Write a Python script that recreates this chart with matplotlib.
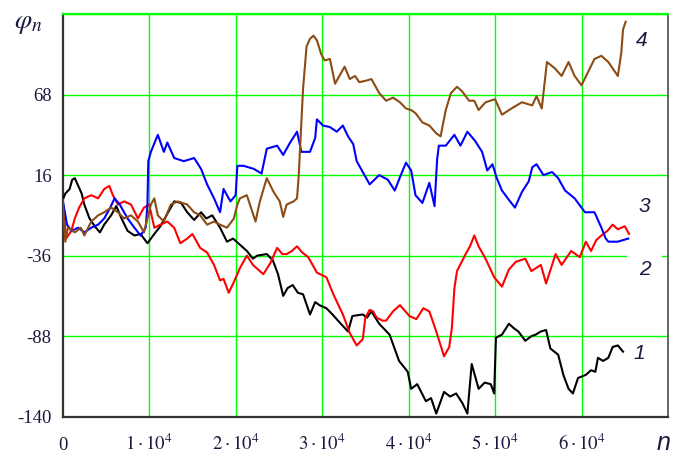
import numpy as np
import matplotlib
matplotlib.use("Agg")
import matplotlib.pyplot as plt

plt.rcParams['font.family'] = ['Liberation Serif', 'DejaVu Serif']
plt.rcParams['mathtext.fontset'] = 'stix'

# --- данные: номер шага n (в тысячах) и значение фазы φ_n для четырёх реализаций ---
n_black = [0, 0.3, 0.8, 1.1, 1.4, 1.8, 2.2, 2.5, 3.1, 3.7, 4.3, 4.8, 5.6, 6.2, 6.8, 7.5,
           8.3, 9.0, 9.8, 10.6, 11.3, 12.0, 12.9, 13.7, 14.4, 15.2, 16.0, 16.6, 17.3,
           18.2, 19.0, 19.7, 20.5, 21.3, 22.0, 22.5, 23.6, 24.3, 24.9, 25.5, 26.0, 26.6,
           27.2, 27.8, 28.6, 29.2, 29.7, 30.5, 31.2, 32.0, 33.0, 33.5, 34.7, 35.2, 35.7,
           36.6, 37.8, 38.9, 39.9, 40.3, 41.0, 42.0, 42.6, 43.2, 44.1, 44.8, 45.5, 46.2,
           46.8, 47.3, 48.1, 48.8, 49.5, 49.9, 50.1, 50.8, 51.6, 52.2, 52.7, 53.5, 54.2,
           54.7, 55.3, 55.9, 56.4, 57.3, 57.9, 58.5, 59.0, 59.6, 60.5, 61.1, 61.6, 61.9,
           62.5, 63.1, 63.6, 64.2, 64.8]
phi_black = [0, 4, 7, 13, 14, 9, 4, -3, -12, -17, -21, -16, -10, -4, -12, -20,
             -23, -22, -28, -22, -17, -10, -1, -2, -8, -13, -8, -12, -10,
             -18, -27, -25, -29, -33, -38, -36, -35, -39, -48, -62, -57, -55,
             -60, -61, -74, -66, -68, -70, -74, -79, -85, -75, -74, -76, -72,
             -80, -87, -104, -111, -122, -119, -130, -128, -138, -124, -127, -125, -131,
             -138, -106, -122, -118, -119, -125, -89, -87, -80, -83, -85, -91, -88,
             -87, -85, -84, -96, -100, -113, -122, -125, -115, -113, -110, -111, -102,
             -104, -102, -95, -94, -98]

n_red = [0, 0.4, 1.0, 1.4, 1.9, 2.5, 3.3, 4.1, 4.8, 5.4, 5.8, 6.4, 7.1, 7.9, 8.7, 9.4,
         10.0, 10.6, 11.3, 12.1, 12.9, 13.6, 14.4, 15.0, 15.9, 16.7, 17.5, 18.2, 18.6,
         19.2, 19.8, 20.5, 21.3, 22.0, 22.6, 23.2, 24.0, 24.8, 25.4, 25.9, 26.5, 27.1,
         27.7, 28.4, 29.4, 30.5, 31.3, 32.4, 33.2, 34.0, 34.7, 35.0, 35.5, 35.9, 36.3,
         37.0, 37.4, 38.2, 39.0, 40.1, 40.9, 41.7, 42.4, 43.2, 44.1, 44.7, 45.0, 45.3,
         45.6, 46.6, 47.1, 47.6, 48.1, 48.9, 49.9, 50.8, 51.6, 52.4, 53.5, 54.2, 55.3,
         55.9, 57.0, 57.7, 58.8, 59.8, 60.5, 61.1, 61.7, 62.3, 63.0, 63.6, 64.2, 65.0, 65.5]
phi_red = [0, -25, -20, -12, -5, 1, 3, 1, 7, 9, 3, -3, -1, -3, -12, -5,
           -3, -18, -16, -14, -18, -28, -25, -22, -31, -34, -42, -52, -51,
           -60, -53, -44, -36, -42, -45, -48, -41, -31, -35, -35, -33, -30,
           -34, -37, -47, -50, -61, -74, -86, -94, -90, -76, -71, -72, -76,
           -78, -78, -72, -68, -75, -77, -70, -72, -85, -101, -95, -83, -57,
           -46, -35, -30, -23, -30, -38, -50, -56, -45, -40, -38, -46, -42,
           -54, -35, -42, -33, -37, -27, -33, -26, -23, -20, -16, -19, -17, -22]

n_blue = [0, 0.5, 1.0, 1.8, 2.5, 3.3, 4.1, 4.8, 5.5, 6.0, 6.6, 7.5, 8.3, 9.0, 9.6, 9.8,
          9.9, 10.2, 11.0, 11.7, 12.1, 12.9, 14.0, 15.2, 16.0, 16.7, 17.5, 18.2, 18.6,
          19.4, 20.0, 20.2, 20.9, 22.1, 23.0, 23.6, 24.8, 25.5, 26.3, 27.1, 27.6, 28.6,
          29.2, 29.4, 30.1, 30.9, 31.7, 32.4, 33.0, 33.6, 34.0, 34.7, 35.5, 36.6, 37.6,
          38.4, 39.1, 39.7, 40.3, 40.8, 41.6, 42.4, 43.0, 43.3, 43.5, 44.3, 45.3, 46.0,
          46.8, 47.7, 48.5, 49.1, 49.7, 50.2, 50.8, 51.6, 52.3, 53.1, 53.9, 54.3, 54.8,
          55.6, 56.6, 57.3, 58.1, 59.2, 60.4, 61.5, 62.3, 62.8, 63.1, 64.2, 65.4]
phi_blue = [0, -16, -20, -18, -21, -18, -16, -12, -5, 1, -3, -12, -18, -23, -18, -3,
            25, 31, 42, 31, 37, 27, 25, 27, 20, 10, 1, -8, 7,
            -1, 3, 22, 22, 20, 17, 33, 35, 29, 37, 44, 31, 31,
            40, 52, 48, 47, 44, 48, 41, 36, 25, 18, 10, 16, 13,
            6, 16, 24, 19, 3, -2, 11, -4, 26, 35, 35, 42, 35,
            44, 38, 31, 19, 23, 14, 6, 0, -5, 5, 12, 21, 23,
            16, 18, 14, 6, 1, -8, -8, -18, -25, -27, -27, -25]

n_brown = [0, 0.3, 0.6, 1.4, 2.1, 2.5, 3.3, 4.1, 4.8, 5.6, 6.4, 7.1, 7.9, 8.7, 9.4, 10.2,
           10.6, 11.0, 11.7, 12.5, 13.3, 14.4, 15.2, 15.9, 16.7, 17.5, 18.2, 19.0, 19.8,
           20.2, 20.5, 21.3, 22.3, 22.8, 23.6, 24.4, 25.1, 25.5, 25.9, 26.7, 27.1, 27.3,
           27.6, 27.8, 28.2, 28.6, 29.0, 29.4, 29.9, 30.3, 30.9, 31.5, 32.0, 32.6, 33.2,
           33.8, 34.3, 35.1, 35.7, 36.6, 37.4, 38.2, 39.0, 39.7, 40.3, 40.8, 41.6, 42.4,
           43.2, 43.7, 44.3, 44.9, 45.6, 46.2, 47.0, 47.6, 48.1, 48.9, 50.0, 50.8, 51.9,
           53.1, 54.3, 54.8, 55.4, 56.0, 56.9, 57.7, 58.5, 59.2, 60.0, 60.8, 61.5, 62.3,
           63.1, 64.2, 64.6, 64.8, 65.1]
phi_brown = [0, -27, -18, -21, -18, -23, -14, -10, -8, -5, -8, -12, -10, -14, -21, -3,
             1, -10, -14, -3, -1, -3, -8, -10, -16, -14, -16, -18, -12,
             -3, 1, 3, -14, -1, 14, 5, -1, -11, -3, -1, 1, 16,
             50, 72, 99, 104, 106, 103, 94, 90, 91, 75, 80, 86, 78,
             80, 76, 77, 78, 69, 64, 66, 63, 59, 58, 56, 50, 48,
             43, 41, 58, 69, 73, 70, 64, 64, 58, 63, 65, 55, 59,
             63, 61, 67, 59, 89, 85, 80, 89, 80, 74, 83, 91, 93,
             89, 80, 95, 110, 115]

series = [(n_black, phi_black, '#000000'),
          (n_red, phi_red, '#ff0000'),
          (n_blue, phi_blue, '#0000ff'),
          (n_brown, phi_brown, '#8c4c14')]

y_ticks = [-140, -88, -36, 16, 68]
x_ticks = [0, 1e4, 2e4, 3e4, 4e4, 5e4, 6e4]
x_tick_labels = ['0'] + [r'$%d\cdot10^{4}$' % k for k in range(1, 7)]

curve_labels = ['1', '2', '3', '4']
label_pos = [(66.7e3, -99), (67.3e3, -45), (67.3e3, -4), (66.9e3, 103)]

text_color = '#1a1a40'
grid_green = '#00ff00'

fig = plt.figure(figsize=(6.77, 4.58), dpi=100)
ax = fig.add_axes([0.0926, 0.0902, 0.8941, 0.8792])
ax.set_xlim(0, 7e4)
ax.set_ylim(-140, 120)

# сетка
for xv in x_ticks[1:]:
    ax.axvline(xv, color=grid_green, lw=1.0, zorder=1)
for yv in y_ticks[1:] + [120]:
    ax.axhline(yv, color=grid_green, lw=1.0, zorder=1)

for n_k, phi, col in series:
    ax.plot(np.array(n_k) * 1e3, phi, color=col, lw=1.5, zorder=3)

for lab, (xp, yp) in zip(curve_labels, label_pos):
    kw = {}
    if lab == '2':
        kw['bbox'] = dict(facecolor='white', edgecolor='none', boxstyle='square,pad=0.55')
    ax.text(xp, yp, lab, fontsize=15, style='italic', family='Liberation Sans',
            color=text_color, ha='center', va='center', zorder=4, **kw)

ax.set_yticks(y_ticks)
ax.set_yticklabels([str(v) for v in y_ticks])
ax.set_xticks(x_ticks)
ax.set_xticklabels(x_tick_labels)
ax.tick_params(length=0, labelsize=13.5, labelcolor=text_color)
ax.tick_params(axis='y', pad=8)
ax.tick_params(axis='x', pad=24)
for lbl in ax.get_xticklabels():
    lbl.set_va('baseline')

for side in ['left', 'bottom']:
    ax.spines[side].set_color('#333333')
    ax.spines[side].set_linewidth(1.6)
ax.spines['right'].set_color('#666666')
ax.spines['right'].set_linewidth(1.4)
ax.spines['top'].set_color(grid_green)
ax.spines['top'].set_linewidth(1.6)

fig.text(28 / 677, 1 - 23 / 458, r'$\varphi_n$', fontsize=20, color=text_color,
         ha='center', va='center')
fig.text(664 / 677, 1 - 443 / 458, 'n', fontsize=18, style='italic',
         family='Liberation Sans', color=text_color, ha='center', va='center')

fig.savefig('out.png', dpi=100)
